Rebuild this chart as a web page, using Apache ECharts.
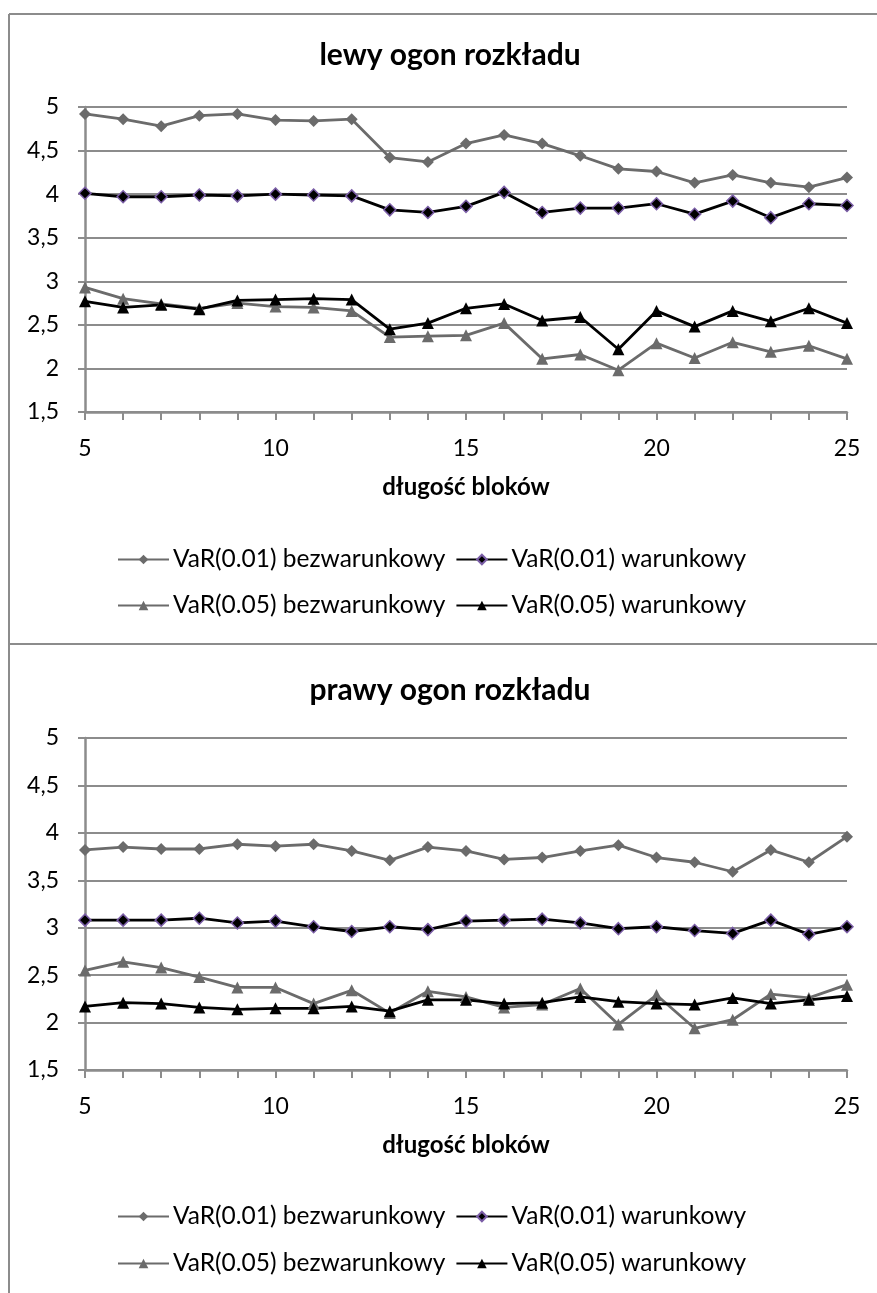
<!DOCTYPE html>
<html>
<head>
<meta charset="utf-8">
<script src="https://cdn.jsdelivr.net/npm/echarts@6/dist/echarts.min.js"></script>
<style>
html,body{margin:0;padding:0;background:#fff;}
#c{width:877px;height:1293px;}
</style>
</head>
<body>
<div id="c"></div>
<script>
const categories = ['5','6','7','8','9','10','11','12','13','14','15','16','17','18','19','20','21','22','23','24','25'];
const seriesNames = ['VaR(0.01) bezwarunkowy','VaR(0.01) warunkowy','VaR(0.05) bezwarunkowy','VaR(0.05) warunkowy'];
const chartTitles = ['lewy ogon rozkładu','prawy ogon rozkładu'];
const xAxisTitle = 'długość bloków';

// lewy ogon rozkładu
const leftVar01Uncond = [4.92,4.86,4.78,4.90,4.92,4.85,4.84,4.86,4.42,4.37,4.58,4.68,4.58,4.44,4.29,4.26,4.13,4.22,4.13,4.08,4.19];
const leftVar01Cond   = [4.01,3.97,3.97,3.99,3.98,4.00,3.99,3.98,3.82,3.79,3.86,4.02,3.79,3.84,3.84,3.89,3.77,3.92,3.73,3.89,3.87];
const leftVar05Uncond = [2.93,2.80,2.74,2.69,2.75,2.71,2.70,2.66,2.36,2.37,2.38,2.52,2.11,2.16,1.98,2.29,2.12,2.30,2.19,2.26,2.11];
const leftVar05Cond   = [2.77,2.70,2.73,2.68,2.78,2.79,2.80,2.79,2.45,2.52,2.69,2.74,2.55,2.59,2.22,2.66,2.48,2.66,2.54,2.69,2.52];

// prawy ogon rozkładu
const rightVar01Uncond = [3.82,3.85,3.83,3.83,3.88,3.86,3.88,3.81,3.71,3.85,3.81,3.72,3.74,3.81,3.87,3.74,3.69,3.59,3.82,3.69,3.96];
const rightVar01Cond   = [3.08,3.08,3.08,3.10,3.05,3.07,3.01,2.96,3.01,2.98,3.07,3.08,3.09,3.05,2.99,3.01,2.97,2.94,3.08,2.93,3.01];
const rightVar05Uncond = [2.55,2.64,2.58,2.48,2.37,2.37,2.20,2.34,2.10,2.33,2.27,2.16,2.19,2.36,1.98,2.29,1.94,2.03,2.30,2.26,2.40];
const rightVar05Cond   = [2.17,2.21,2.20,2.16,2.14,2.15,2.15,2.17,2.12,2.24,2.24,2.20,2.21,2.27,2.22,2.20,2.19,2.26,2.20,2.24,2.28];

const yTicks = {min:1.5, max:5, interval:0.5};

const FONT = 'Lato';
const GRAY = '#6b6b6b';
const GRID = '#8c8c8c';
const PURPLE = '#7b5ea7';

const chart = echarts.init(document.getElementById('c'), null, {renderer:'canvas'});

// panel layout (pixels)
const panels = [
  {titleY:55, gridTop:107, gridH:305, legendY:[561,607]},
  {titleY:690, gridTop:738, gridH:332, legendY:[1218,1265]}
];

const grids = [], xAxes = [], yAxes = [], titles = [], legends = [], series = [];
const dataSets = [
  [leftVar01Uncond,leftVar01Cond,leftVar05Uncond,leftVar05Cond],
  [rightVar01Uncond,rightVar01Cond,rightVar05Uncond,rightVar05Cond]
];

panels.forEach((p,i)=>{
  grids.push({left:85, width:762, top:p.gridTop, height:p.gridH, containLabel:false});
  xAxes.push({
    type:'category', gridIndex:i, data:categories, boundaryGap:false,
    axisLine:{show:true, lineStyle:{color:GRID, width:2.5}},
    axisTick:{show:true, interval:0, length:8, lineStyle:{color:GRID, width:2}},
    axisLabel:{interval:4, margin:25, color:'#000', fontFamily:FONT, fontSize:23},
    splitLine:{show:false},
    name:xAxisTitle, nameLocation:'middle', nameGap:63,
    nameTextStyle:{color:'#000', fontFamily:FONT, fontSize:24, fontWeight:'bold'}
  });
  yAxes.push({
    type:'value', gridIndex:i, min:yTicks.min, max:yTicks.max, interval:yTicks.interval,
    axisLine:{show:true, lineStyle:{color:GRID, width:2.5}},
    axisTick:{show:true, length:7, lineStyle:{color:GRID, width:2}},
    axisLabel:{margin:26, color:'#000', fontFamily:FONT, fontSize:23,
      formatter:v=>String(v).replace('.',',')},
    splitLine:{show:true, lineStyle:{color:GRID, width:2}}
  });
  titles.push({
    text:chartTitles[i], left:450, top:p.titleY, textAlign:'center', textVerticalAlign:'middle', padding:0,
    textStyle:{fontFamily:FONT, fontSize:30, fontWeight:'bold', color:'#000'}
  });
  [[0,1],[2,3]].forEach((pair,r)=>{
    legends.push({
      data:pair.map(k=>seriesNames[k]), left:117, top:p.legendY[r]-14, padding:0,
      itemWidth:51, itemHeight:12, itemGap:10, orient:'horizontal', selectedMode:false,
      textStyle:{fontFamily:FONT, fontSize:24.5, color:'#000', padding:[0,0,0,-1]}
    });
  });
  const d = dataSets[i];
  const styles = [
    {color:GRAY, symbol:'diamond', border:GRAY, bw:0},
    {color:'#000', symbol:'diamond', border:PURPLE, bw:1.5},
    {color:GRAY, symbol:'triangle', border:GRAY, bw:0},
    {color:'#000', symbol:'triangle', border:'#000', bw:0}
  ];
  styles.forEach((s,k)=>{
    series.push({
      name:seriesNames[k], type:'line', xAxisIndex:i, yAxisIndex:i, data:d[k],
      symbol:s.symbol, symbolSize:12, showAllSymbol:true, animation:false,
      lineStyle:{color:s.color, width:2.8},
      itemStyle:{color:s.color, borderColor:s.border, borderWidth:s.bw},
      emphasis:{disabled:true}
    });
  });
});

chart.setOption({
  backgroundColor:'#fff',
  animation:false,
  title:titles,
  legend:legends,
  grid:grids,
  xAxis:xAxes,
  yAxis:yAxes,
  series:series,
  graphic:[
    {type:'line', shape:{x1:9, y1:14, x2:877, y2:14}, style:{stroke:GRID, lineWidth:2}, silent:true},
    {type:'line', shape:{x1:9, y1:14, x2:9, y2:1293}, style:{stroke:GRID, lineWidth:2}, silent:true},
    {type:'line', shape:{x1:9, y1:644, x2:877, y2:644}, style:{stroke:GRID, lineWidth:2}, silent:true}
  ]
});
</script>
</body>
</html>
